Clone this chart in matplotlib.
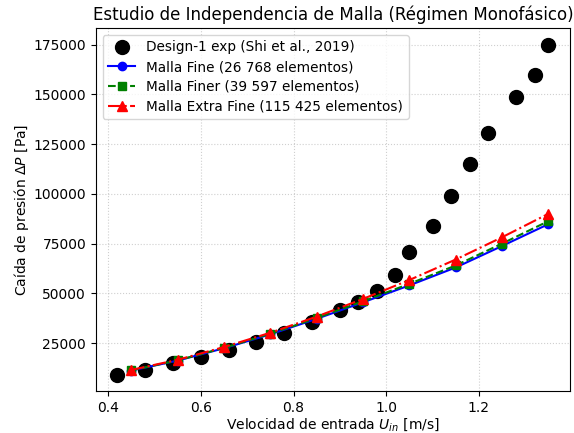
import matplotlib
matplotlib.use("Agg")
import matplotlib.pyplot as plt

# Experimental data (Shi et al., 2019), Design-1
u_exp = [0.42, 0.48, 0.54, 0.60, 0.66, 0.72, 0.78, 0.84, 0.90, 0.94,
         0.98, 1.02, 1.05, 1.10, 1.14, 1.18, 1.22, 1.28, 1.32, 1.35]
dp_exp = [9200, 11700, 14900, 17900, 21600, 25500, 30000, 35400, 41400, 45600,
          51000, 59000, 70700, 83800, 99000, 114900, 130800, 148800, 159700, 175000]

# CFD results for the three meshes
u_sim = [0.45, 0.55, 0.65, 0.75, 0.85, 0.95, 1.05, 1.15, 1.25, 1.35]
dp_fine = [11200, 16200, 22400, 29400, 37200, 45500, 54000, 63000, 73800, 84800]
dp_finer = [11300, 16300, 22600, 29700, 37600, 46000, 54800, 64000, 75000, 86300]
dp_extra = [11500, 16600, 23000, 30200, 38300, 47200, 56700, 67000, 78200, 90000]

fig = plt.figure(figsize=(5.74, 4.33), dpi=100)
ax = fig.add_axes([0.167, 0.097, 0.826, 0.838])

ax.plot(u_exp, dp_exp, "o", color="black", markersize=10,
        label="Design-1 exp (Shi et al., 2019)")
ax.plot(u_sim, dp_fine, "-o", color="blue", markersize=6, linewidth=1.5,
        label="Malla Fine (26 768 elementos)")
ax.plot(u_sim, dp_finer, "--s", color="green", markersize=6, linewidth=1.5,
        label="Malla Finer (39 597 elementos)")
ax.plot(u_sim, dp_extra, "-.^", color="red", markersize=7, linewidth=1.5,
        label="Malla Extra Fine (115 425 elementos)")

ax.set_xlabel(r"Velocidad de entrada $U_{in}$ [m/s]", labelpad=1)
ax.set_ylabel(r"Caída de presión $\Delta P$ [Pa]", labelpad=2)
ax.set_title("Estudio de Independencia de Malla (Régimen Monofásico)")
ax.grid(True, linestyle=":", alpha=0.6)
ax.legend(loc="upper left", fontsize=9.8, labelspacing=0.42)

fig.savefig("out.png", dpi=100)
